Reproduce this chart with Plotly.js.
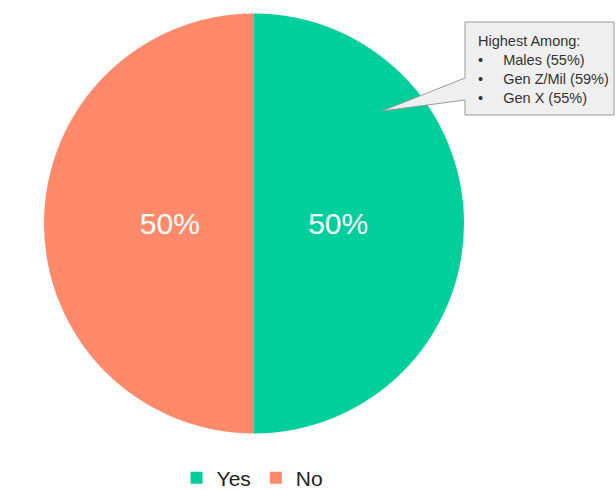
<!DOCTYPE html>
<html>
<head>
<meta charset="utf-8">
<script src="https://cdn.plot.ly/plotly-3.0.1.min.js"></script>
<style>html,body{margin:0;padding:0;background:#fff;}#chart{width:616px;height:490px;}</style>
</head>
<body>
<div id="chart"></div>
<script>
const categories = ["Yes", "No"];
const values = [50, 50];
const colors = ["#00CE9B", "#FF8A6B"];
const calloutTitle = "Highest Among:";
const calloutItems = ["Males (55%)", "Gen Z/Mil (59%)", "Gen X (55%)"];

const W = 616, H = 490;
const px = x => x / W;
const py = y => 1 - y / H;

const pad = "\u00a0".repeat(5);

const trace = {
  type: "pie",
  labels: categories,
  values: values,
  marker: { colors: colors, line: { width: 0 } },
  sort: false,
  direction: "clockwise",
  rotation: 0,
  textinfo: "percent",
  texttemplate: ["%{percent:.0%}" + pad, pad + "%{percent:.0%}"],
  textposition: "inside",
  insidetextfont: { color: "#ffffff", size: 30, family: "Liberation Sans, Arial, sans-serif" },
  hoverinfo: "label+percent",
  domain: { x: [px(44), px(464)], y: [py(434), py(13)] }
};

const boxPath = `M ${px(465)} ${py(22)} L ${px(614)} ${py(22)} L ${px(614)} ${py(115)} L ${px(465)} ${py(115)} L ${px(465)} ${py(100)} L ${px(382)} ${py(111)} L ${px(465)} ${py(78)} Z`;

const lines = [calloutTitle].concat(calloutItems.map(s => "•" + "\u00a0".repeat(5) + s));

const layout = {
  width: W, height: H,
  margin: { l: 0, r: 0, t: 0, b: 0, autoexpand: false },
  paper_bgcolor: "#ffffff",
  font: { family: "Liberation Sans, Arial, sans-serif", color: "#222" },
  showlegend: true,
  legend: {
    orientation: "h", x: 0.41, xanchor: "center", y: py(478), yanchor: "middle",
    font: { size: 21, color: "#222" }, itemwidth: 30, tracegroupgap: 0
  },
  shapes: [{
    type: "path", xref: "paper", yref: "paper", path: boxPath,
    fillcolor: "#EFEFEF", line: { color: "#9a9a9a", width: 1 }
  }],
  annotations: [{
    xref: "paper", yref: "paper", x: px(476), y: py(31), xanchor: "left", yanchor: "top",
    text: lines.join("<br>"), showarrow: false, align: "left",
    font: { size: 14.5, color: "#333", family: "Liberation Sans, Arial, sans-serif" }
  }]
};

Plotly.newPlot("chart", [trace], layout, { displayModeBar: false, staticPlot: true });
</script>
</body>
</html>
